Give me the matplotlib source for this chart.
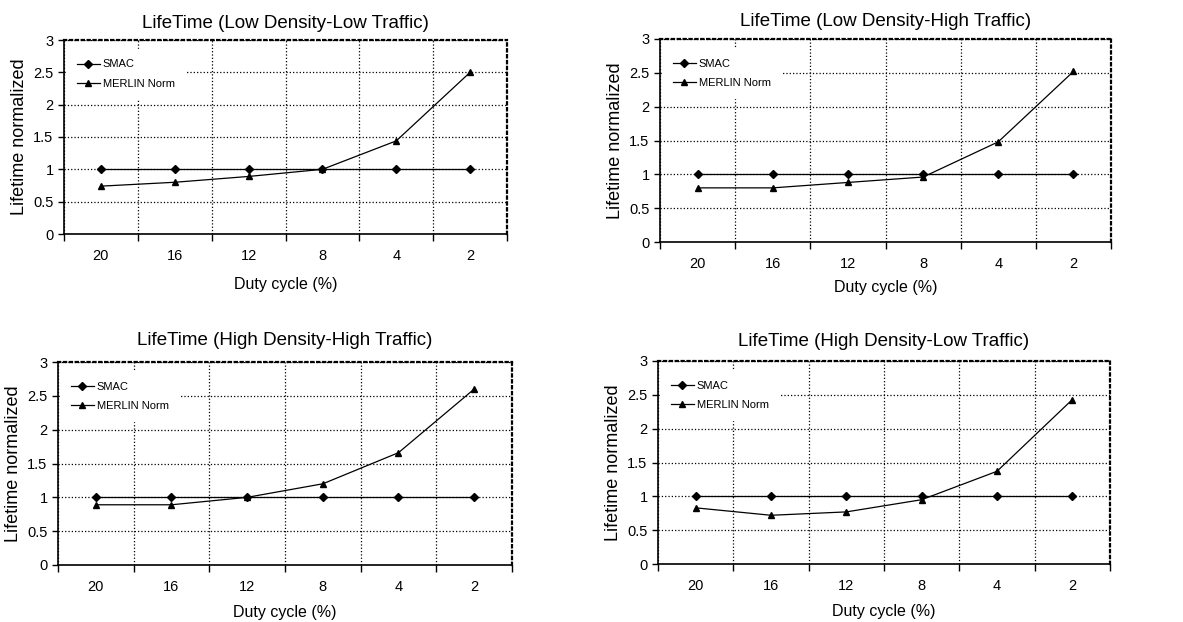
import matplotlib.pyplot as plt
import numpy as np

plt.rcParams['font.family'] = ['Liberation Sans', 'DejaVu Sans']

duty = ['20', '16', '12', '8', '4', '2']
titles = ['LifeTime (Low Density-Low Traffic)',
          'LifeTime (Low Density-High Traffic)',
          'LifeTime (High Density-High Traffic)',
          'LifeTime (High Density-Low Traffic)']
smac = [1, 1, 1, 1, 1, 1]
merlin_ldlt = [0.74, 0.80, 0.89, 1.00, 1.44, 2.50]
merlin_ldht = [0.80, 0.80, 0.88, 0.96, 1.48, 2.52]
merlin_hdht = [0.89, 0.89, 1.00, 1.20, 1.66, 2.60]
merlin_hdlt = [0.83, 0.72, 0.77, 0.95, 1.37, 2.43]
merlin = [merlin_ldlt, merlin_ldht, merlin_hdht, merlin_hdlt]

# axes boxes in pixels (left, top, right, bottom)
boxes = [(64, 40, 507, 234), (660, 39, 1111, 242),
         (58, 362, 512, 565), (658, 361, 1110, 564)]
title_pads = [9, 9, 12, 11]
xlab_pads = [10, 6, 8, 8]
W, H = 1183, 622

fig = plt.figure(figsize=(W / 100, H / 100), dpi=100)
x = np.arange(len(duty))

for i in range(4):
    l, t, r, b = boxes[i]
    ax = fig.add_axes([l / W, 1 - b / H, (r - l) / W, (b - t) / H])
    ax.plot(x, smac, color='black', lw=0.9, marker='D', ms=4, label='SMAC', zorder=3)
    ax.plot(x, merlin[i], color='black', lw=0.9, marker='^', ms=5, label='MERLIN Norm', zorder=3)
    ax.set_xlim(-0.5, 5.5)
    ax.set_ylim(0, 3)
    ax.set_yticks(np.arange(0, 3.01, 0.5))
    ax.set_yticklabels(['0', '0.5', '1', '1.5', '2', '2.5', '3'])
    ax.set_xticks(x)
    ax.set_xticklabels(duty)
    ax.set_xticks(np.arange(-0.5, 5.6, 1), minor=True)
    ax.tick_params(axis='x', which='major', length=0, pad=11, labelsize=10.5)
    ax.tick_params(axis='x', which='minor', length=5, direction='out', width=1)
    ax.tick_params(axis='y', length=4, width=1, labelsize=10.5)
    ax.grid(True, which='minor', axis='x', color='black', ls=':', lw=0.9)
    ax.grid(True, which='major', axis='y', color='black', ls=':', lw=0.9)
    for s in ['left', 'bottom']:
        ax.spines[s].set_linewidth(1.2)
    for s in ['top', 'right']:
        ax.spines[s].set_linestyle(':')
        ax.spines[s].set_linewidth(1.6)
    ax.set_title(titles[i], fontsize=13.5, pad=title_pads[i])
    ax.set_xlabel('Duty cycle (%)', fontsize=11.5, labelpad=xlab_pads[i])
    ax.set_ylabel('Lifetime normalized', fontsize=13, labelpad=4)
    leg = ax.legend(loc='upper left', bbox_to_anchor=(-0.005, 0.98), frameon=True,
                    fontsize=8, handlelength=2.0, handletextpad=0.3,
                    borderpad=0.9, labelspacing=0.85, fancybox=False)
    leg.get_frame().set_edgecolor('white')
    leg.get_frame().set_facecolor('white')
    leg.get_frame().set_alpha(1)

fig.savefig('out.png', dpi=100)
